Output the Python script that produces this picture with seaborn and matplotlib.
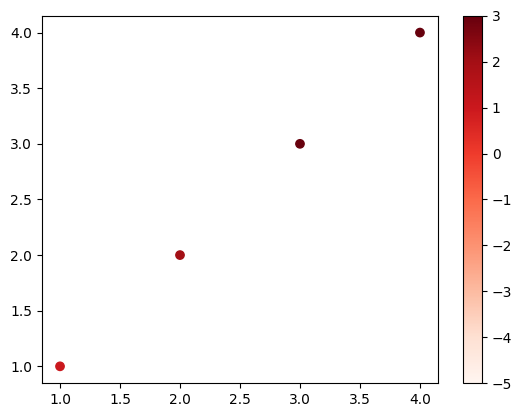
import matplotlib
matplotlib.use('Agg')
import matplotlib.pyplot as plt
import seaborn as sns
import pandas as pd
import numpy as np

x = [1, 2, 3, 4]
y = [1, 2, 3, 4]
c = [1, 2, 3, 4]
vmin, vmax = -5, 3

df = pd.DataFrame({'x': x, 'y': y, 'c': c})

fig = plt.figure(figsize=(5.22, 4.18), dpi=100)
ax = fig.add_axes([0.0805, 0.0837, 0.7585, 0.8783])
cax = fig.add_axes([0.887, 0.0837, 0.0364, 0.8783])

norm = matplotlib.colors.Normalize(vmin=vmin, vmax=vmax)
sns.scatterplot(x='x', y='y', hue='c', palette='Reds', hue_norm=norm,
                data=df, ax=ax, s=36, linewidth=1, edgecolor='face', legend=False)
ax.set_xlabel('')
ax.set_ylabel('')

sm = matplotlib.cm.ScalarMappable(norm=norm, cmap='Reds')
fig.colorbar(sm, cax=cax)

fig.savefig('out.png', dpi=100)
